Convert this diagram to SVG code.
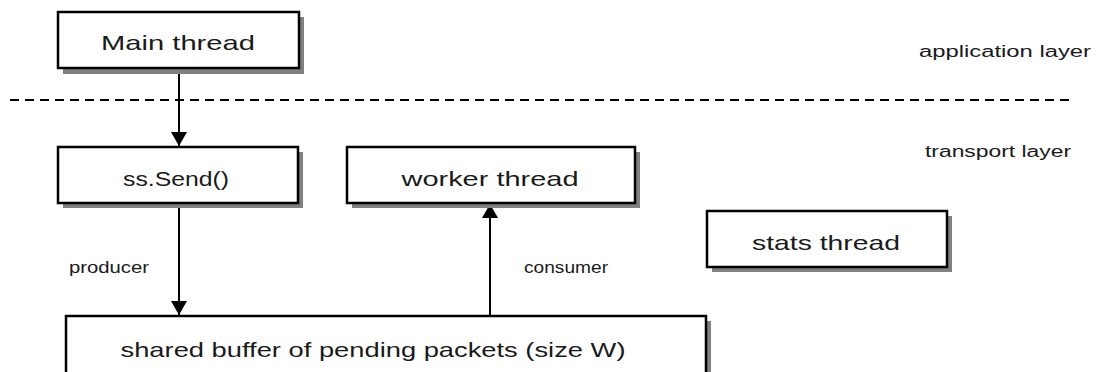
<svg xmlns="http://www.w3.org/2000/svg" width="1097" height="372" viewBox="0 0 1097 372">
  <style>
    .shadow { fill: #808080; }
    .box { fill: #ffffff; stroke: #000000; stroke-width: 2.5; }
    .label { font-family: "Liberation Sans", Arial, sans-serif; fill: #1a1a1a; text-anchor: middle; }
    .big { font-size: 21px; }
    .small { font-size: 16px; }
    .edge { stroke: #000000; stroke-width: 2; fill: none; }
    .divider { stroke: #000000; stroke-width: 2; stroke-dasharray: 9 6; }
  </style>
  <defs>
    <marker id="arrow" viewBox="0 0 14 16" refX="14" refY="8" markerWidth="14" markerHeight="16" markerUnits="userSpaceOnUse" orient="auto">
      <path d="M0,0 L14,8 L0,16 Z" fill="#000000"/>
    </marker>
  </defs>
  <rect width="1097" height="372" fill="#ffffff"/>

  <!-- layer separator and layer names -->
  <line class="divider" x1="10" y1="100" x2="1070" y2="100"/>
  <text class="label small" x="1005" y="57" textLength="172" lengthAdjust="spacingAndGlyphs">application layer</text>
  <text class="label small" x="998" y="157" textLength="146" lengthAdjust="spacingAndGlyphs">transport layer</text>

  <!-- connectors -->
  <g id="connectors">
    <line class="edge" x1="179" y1="69" x2="179" y2="146" marker-end="url(#arrow)"/>
    <line class="edge" x1="179" y1="204" x2="179" y2="315" marker-end="url(#arrow)"/>
    <line class="edge" x1="490" y1="315" x2="490" y2="204" marker-end="url(#arrow)"/>
    <text class="label small" x="109" y="273" textLength="80" lengthAdjust="spacingAndGlyphs">producer</text>
    <text class="label small" x="566" y="273" textLength="84" lengthAdjust="spacingAndGlyphs">consumer</text>
  </g>

  <g id="main-thread">
    <rect class="shadow" x="63" y="17" width="241" height="57"/>
    <rect class="box" x="58" y="12" width="241" height="56"/>
    <text class="label big" x="178" y="50" textLength="154" lengthAdjust="spacingAndGlyphs">Main thread</text>
  </g>

  <g id="ss-send">
    <rect class="shadow" x="63" y="152" width="240" height="56"/>
    <rect class="box" x="58" y="147" width="240" height="56"/>
    <text class="label big" x="176" y="186" textLength="106" lengthAdjust="spacingAndGlyphs">ss.Send()</text>
  </g>

  <g id="worker-thread">
    <rect class="shadow" x="352" y="152" width="288" height="56"/>
    <rect class="box" x="347" y="147" width="288" height="56"/>
    <text class="label big" x="490" y="186" textLength="177" lengthAdjust="spacingAndGlyphs">worker thread</text>
  </g>

  <g id="stats-thread">
    <rect class="shadow" x="712" y="216" width="240" height="56"/>
    <rect class="box" x="707" y="211" width="240" height="56"/>
    <text class="label big" x="826" y="250" textLength="148" lengthAdjust="spacingAndGlyphs">stats thread</text>
  </g>

  <g id="shared-buffer">
    <rect class="shadow" x="71" y="321" width="640" height="60"/>
    <rect class="box" x="66" y="316" width="640" height="70"/>
    <text class="label big" x="373" y="357" textLength="505" lengthAdjust="spacingAndGlyphs">shared buffer of pending packets (size W)</text>
  </g>
</svg>
